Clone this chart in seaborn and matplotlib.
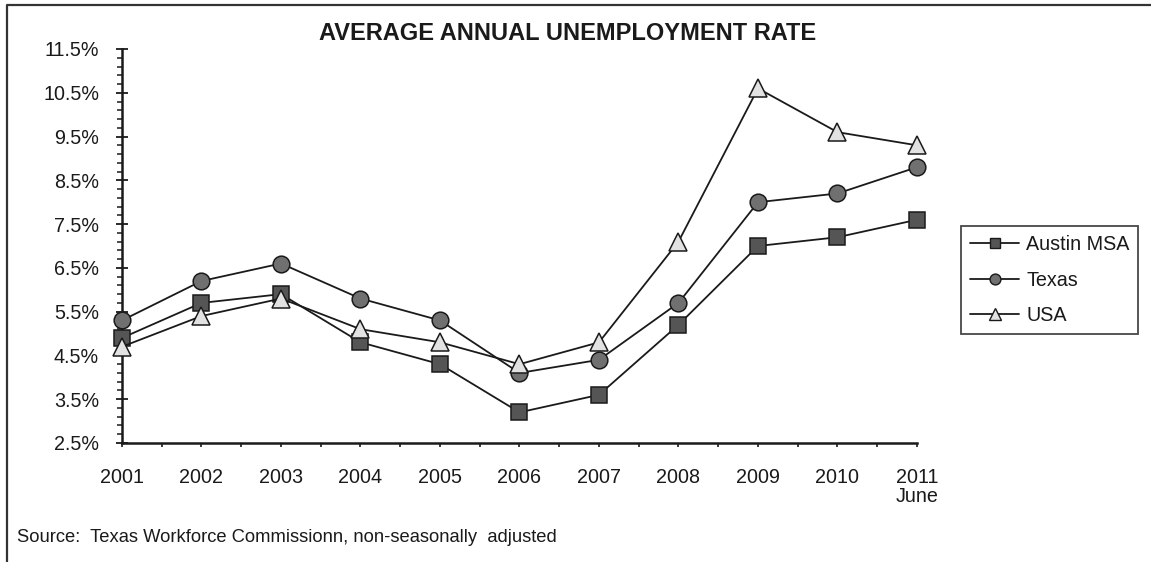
import matplotlib
matplotlib.use("Agg")
import matplotlib.pyplot as plt
from matplotlib.lines import Line2D
from matplotlib.ticker import FixedLocator, MultipleLocator, FuncFormatter
import numpy as np
import pandas as pd
import seaborn as sns

# Annual average unemployment rate (%), 2011 = June
years = [2001, 2002, 2003, 2004, 2005, 2006, 2007, 2008, 2009, 2010, 2011]
year_labels = ["2001", "2002", "2003", "2004", "2005", "2006", "2007",
               "2008", "2009", "2010", "2011\nJune"]
austin_msa = [4.9, 5.7, 5.9, 4.8, 4.3, 3.2, 3.6, 5.2, 7.0, 7.2, 7.6]
texas = [5.3, 6.2, 6.6, 5.8, 5.3, 4.1, 4.4, 5.7, 8.0, 8.2, 8.8]
usa = [4.7, 5.4, 5.8, 5.1, 4.8, 4.3, 4.8, 7.1, 10.6, 9.6, 9.3]
series_names = ["Austin MSA", "Texas", "USA"]
y_ticks = [2.5, 3.5, 4.5, 5.5, 6.5, 7.5, 8.5, 9.5, 10.5, 11.5]

df = pd.DataFrame({
    "year": years * 3,
    "rate": austin_msa + texas + usa,
    "area": np.repeat(series_names, len(years)),
})

sns.set_theme(style="white")
plt.rcParams["font.family"] = ["Liberation Sans", "DejaVu Sans"]

INK = "#1a1a1a"
W, H = 1151, 562
fig = plt.figure(figsize=(W / 100, H / 100), dpi=100)
ax = fig.add_axes([122 / W, 1 - 443 / H, (917 - 122) / W, (443 - 49) / H])

styles = {
    "Austin MSA": dict(marker="s", ms=11, mfc="#555555"),
    "Texas": dict(marker="o", ms=12, mfc="#707070"),
    "USA": dict(marker="^", ms=12.5, mfc="#e2e2e2"),
}

for name in series_names:
    st = styles[name]
    sns.lineplot(data=df[df["area"] == name], x="year", y="rate", ax=ax,
                 color=INK, linewidth=1.3, marker=st["marker"],
                 markersize=st["ms"], markerfacecolor=st["mfc"],
                 markeredgecolor=INK, markeredgewidth=1.1,
                 clip_on=False, zorder=3, legend=False)

ax.set_xlim(2001, 2011)
ax.set_ylim(2.5, 11.5)
ax.set_xlabel("")
ax.set_ylabel("")

for side in ["top", "right"]:
    ax.spines[side].set_visible(False)
for side in ["left", "bottom"]:
    ax.spines[side].set_linewidth(1.8)
    ax.spines[side].set_color(INK)

# y axis: major every 1% from 2.5%, minor every 0.2%
ax.yaxis.set_major_locator(FixedLocator(y_ticks))
ax.yaxis.set_minor_locator(FixedLocator(np.arange(2.5, 11.51, 0.2)))
ax.yaxis.set_major_formatter(FuncFormatter(lambda v, p: f"{v:.1f}%"))
ax.tick_params(axis="y", which="major", direction="inout", length=8,
               width=1.3, color=INK, pad=12.5, labelsize=14.2,
               labelcolor=INK, left=True)
ax.tick_params(axis="y", which="minor", direction="out", length=3.5,
               width=1.1, color=INK, left=True)

# x axis: years with half-year ticks
ax.set_xticks(years)
ax.set_xticklabels(year_labels, linespacing=1.0)
ax.xaxis.set_minor_locator(MultipleLocator(0.5))
ax.tick_params(axis="x", which="both", direction="out", length=3,
               width=1.2, color=INK, bottom=True)
ax.tick_params(axis="x", which="major", pad=15, labelsize=14.2,
               labelcolor=INK)
for lbl in ax.get_xticklabels():
    lbl.set_verticalalignment("top")

fig.text(568 / W, 1 - 34 / H, "AVERAGE ANNUAL UNEMPLOYMENT RATE",
         ha="center", va="center", fontsize=17, fontweight="bold",
         color=INK)

fig.text(17 / W, 1 - 538 / H,
         "Source:  Texas Workforce Commissionn, non-seasonally  adjusted",
         ha="left", va="center", fontsize=13.25, color=INK)

# legend
handles = [Line2D([], [], color=INK, linewidth=1.3,
                  marker=styles[n]["marker"], markersize=styles[n]["ms"] * 0.65,
                  markerfacecolor=styles[n]["mfc"], markeredgecolor=INK,
                  markeredgewidth=1.0) for n in series_names]
leg = fig.legend(handles, series_names, loc="upper left",
                 bbox_to_anchor=(961 / W, 1 - 226 / H), fontsize=14.2,
                 frameon=True, fancybox=False, edgecolor=INK,
                 handlelength=2.5, handletextpad=0.35, labelspacing=0.85,
                 borderpad=0.45, borderaxespad=0)
leg.get_frame().set_linewidth(1.3)
for t in leg.get_texts():
    t.set_color(INK)

# outer border (top and left edges)
fig.add_artist(Line2D([7 / W, 7 / W, 1.0], [0.0, 1 - 5 / H, 1 - 5 / H],
                      transform=fig.transFigure, color="#333333",
                      linewidth=1.6))

fig.savefig("out.png", dpi=100)
